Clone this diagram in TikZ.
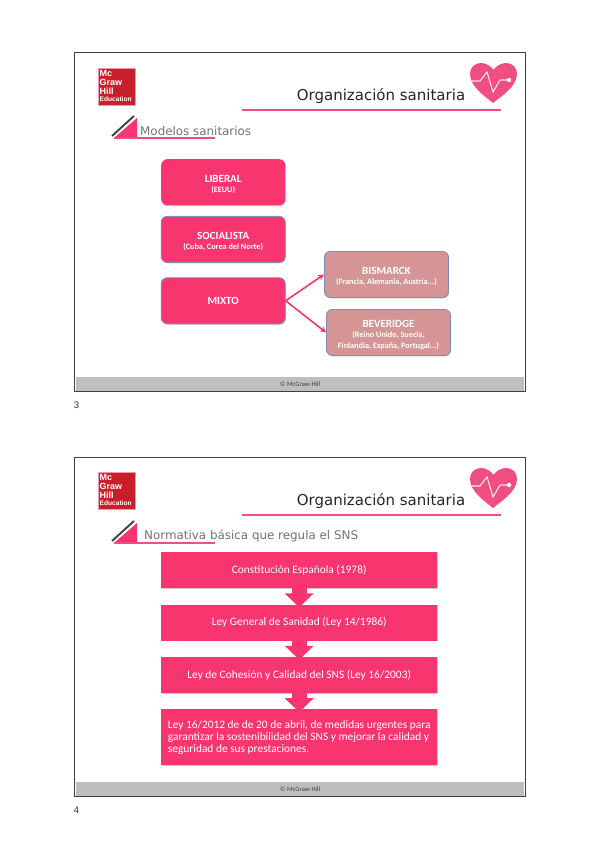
\documentclass[tikz,border=0pt]{standalone}
\usepackage{fontspec}
\setmainfont{Carlito}
\newfontfamily\titlefont{DejaVu Sans}
\newfontfamily\logofont{Liberation Sans}
\usepackage{tikz}
\usetikzlibrary{arrows.meta, positioning, shadows}
\definecolor{rosa}{HTML}{F8356F}
\definecolor{rosaclaro}{HTML}{F04E80}
\definecolor{malva}{HTML}{D69595}
\definecolor{borde}{HTML}{7C8DBE}
\definecolor{pie}{HTML}{BEBEBE}
\definecolor{rojologo}{HTML}{C8202A}
\definecolor{marco}{HTML}{404040}
\newcommand{\modelhead}[1]{\rule{0pt}{11.5pt}{\fontsize{11}{15}\selectfont #1}}

\begin{document}
\begin{tikzpicture}[
  x=1pt, y=-1pt,
  node distance=16pt,
  frame/.style={draw=marco, line width=1.2pt, fill=white},
  band/.style={fill=pie},
  footer/.style={font=\fontsize{6.6}{7}\selectfont, text=black!75},
  logo/.style={fill=rojologo, draw=rosaclaro!60, line width=0.4pt, minimum width=37pt, minimum height=37pt, inner sep=0pt},
  logotext/.style={text=white, font=\logofont\bfseries\fontsize{9}{9.3}\selectfont, align=left, inner sep=0pt, anchor=north west},
  logosmall/.style={text=white, font=\logofont\bfseries\fontsize{6.6}{7}\selectfont, inner sep=0pt, anchor=north west},
  title/.style={font=\titlefont\fontsize{15}{17}\selectfont, text=black!85, inner sep=0pt},
  subtitle/.style={font=\titlefont\fontsize{11.9}{14}\selectfont, text=black!55, inner sep=0pt, anchor=west},
  rule/.style={draw=rosaclaro, line width=1.4pt},
  corner/.style={draw=marco, line width=1.9pt},
  wedge/.style={fill=rosa},
  heart/.style={fill=rosaclaro},
  pulse/.style={draw=white!92!black, line width=1.1pt},
  pagenum/.style={font=\logofont\fontsize{9.5}{11}\selectfont, text=black!80, inner sep=0pt},
  model/.style={rounded corners=6pt, fill=rosa, text=white, align=center, minimum width=124pt, minimum height=46pt, inner sep=2pt, font=\bfseries\fontsize{8.2}{10.5}\selectfont, drop shadow={shadow xshift=0.6pt, shadow yshift=-1pt, fill=black!45}},
  ringed/.style={model, draw=borde, line width=0.9pt},
  variant/.style={ringed, fill=malva},
  head/.style={font=\bfseries\fontsize{11}{15}\selectfont},
  link/.style={-{Stealth[length=6pt, width=6pt]}, draw=rosa, line width=1.6pt},
  law/.style={fill=rosa, text=white, minimum width=276pt, minimum height=36pt, inner sep=2pt, font=\fontsize{11.4}{11.9}\selectfont, drop shadow={shadow xshift=0.5pt, shadow yshift=-0.8pt, fill=black!40}},
  block/.style={draw=rosa, line width=15pt, shorten >=-3pt, -{Triangle[length=14pt, width=28pt]}}
]
\useasboundingbox (0,0) rectangle (599,848);

% primera diapositiva
\node[frame, minimum width=451pt, minimum height=339pt, anchor=north west, inner sep=0pt] (slideA) at (74,52) {};
\node[band, minimum width=448.6pt, minimum height=14pt, anchor=south, inner sep=0pt, yshift=0.8pt] (bandA) at (slideA.south) {};
\node[footer] (footA) at (bandA) {© McGraw-Hill};
\node[logo, anchor=north west] (logoA) at (98,68) {};
\node[logotext] (logoAtext) at (99.5,70) {Mc\\Graw\\Hill};
\node[logosmall, below=1.2pt of logoAtext.south west, anchor=north west] (logoAsmall) {Education};
\node[title] (titleA) at (381,96) {Organización sanitaria};
\draw[rule] (242,110) -- (501,110);
\fill[heart] (493,103) .. controls (486,97) and (470,87) .. (470,74) .. controls (470,67) and (475,63) .. (481,63) .. controls (486,63) and (491,66) .. (493.5,70) .. controls (496,66) and (501,63) .. (506,63) .. controls (512,63) and (517,67) .. (517,74) .. controls (517,87) and (500,97) .. (493,103) -- cycle;
\draw[pulse] (472,81) -- (480,81) -- (487,72) -- (493,92) -- (500,80) -- (509,80);
\fill[white] (509,80) circle (2.2);
\fill[wedge] (114,138) -- (137,118) -- (137,138) -- cycle;
\draw[corner] (112,136) -- (134,116);
\draw[rule] (114,138) -- (215,138);
\node[subtitle] (subA) at (140,131) {Modelos sanitarios};

\node[model, anchor=north west] (liberal) at (161,159) {\modelhead{LIBERAL}\\(EEUU)};
\node[ringed, below=10.5pt of liberal] (socialista) {\modelhead{SOCIALISTA}\\(Cuba, Corea del Norte)};
\node[ringed, below=14.5pt of socialista, head] (mixto) {MIXTO};
\node[variant, anchor=north west] (bismarck) at (324,251) {\modelhead{BISMARCK}\\(Francia, Alemania, Austria...)};
\node[variant, anchor=north west] (beveridge) at (326,309) {\modelhead{BEVERIDGE}\\(Reino Unido, Suecia,\\Finlandia, España, Portugal...)};
\draw[link] (mixto.east) -- (bismarck.west);
\draw[link] (mixto.east) -- (beveridge.west);
\node[pagenum] (pageA) at (76.5,405) {3};

% segunda diapositiva
\node[frame, minimum width=451pt, minimum height=339pt, anchor=north west, inner sep=0pt] (slideB) at (74,457) {};
\node[band, minimum width=448.6pt, minimum height=14pt, anchor=south, inner sep=0pt, yshift=0.8pt] (bandB) at (slideB.south) {};
\node[footer] (footB) at (bandB) {© McGraw-Hill};
\node[logo, anchor=north west] (logoB) at (98,472) {};
\node[logotext] (logoBtext) at (99.5,474) {Mc\\Graw\\Hill};
\node[logosmall, below=1.2pt of logoBtext.south west, anchor=north west] (logoBsmall) {Education};
\node[title] (titleB) at (381,501) {Organización sanitaria};
\draw[rule] (242,515) -- (501,515);
\fill[heart] (493,508) .. controls (486,502) and (470,492) .. (470,479) .. controls (470,472) and (475,468) .. (481,468) .. controls (486,468) and (491,471) .. (493.5,475) .. controls (496,471) and (501,468) .. (506,468) .. controls (512,468) and (517,472) .. (517,479) .. controls (517,492) and (500,502) .. (493,508) -- cycle;
\draw[pulse] (472,486) -- (480,486) -- (487,477) -- (493,497) -- (500,485) -- (509,485);
\fill[white] (509,485) circle (2.2);
\fill[wedge] (114,543) -- (137,523) -- (137,543) -- cycle;
\draw[corner] (112,541) -- (134,521);
\draw[rule] (114,543) -- (215,543);
\node[subtitle] (subB) at (144,536) {Normativa básica que regula el SNS};

\node[law, anchor=north west] (constitucion) at (161,552) {Constitución Española (1978)};
\node[law, below=of constitucion] (general) {Ley General de Sanidad (Ley 14/1986)};
\node[law, below=of general] (cohesion) {Ley de Cohesión y Calidad del SNS (Ley 16/2003)};
\node[law, below=of cohesion, minimum height=56pt, align=left] (urgentes) {Ley 16/2012 de de 20 de abril, de medidas urgentes para\\garantizar la sostenibilidad del SNS y mejorar la calidad y\\seguridad de sus prestaciones.};
\draw[block] (constitucion) -- (general);
\draw[block] (general) -- (cohesion);
\draw[block] (cohesion) -- (urgentes);
\node[pagenum] (pageB) at (76.5,810) {4};
\end{tikzpicture}
\end{document}
